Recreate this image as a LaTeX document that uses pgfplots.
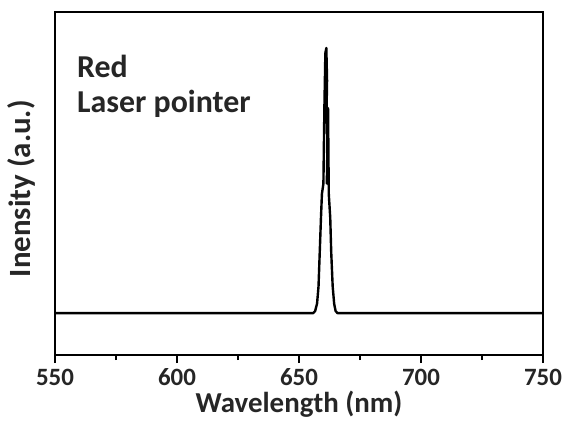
\documentclass[border=0pt]{standalone}
\usepackage{fontspec}
\setmainfont{Carlito}
\usepackage{pgfplots}
\pgfplotsset{compat=1.18}
\begin{document}
\begin{tikzpicture}[x=1bp,y=1bp]
\begin{axis}[
  name=ax,
  at={(0,0)}, anchor=south west,
  scale only axis,
  width=488bp, height=343bp,
  xmin=550, xmax=750, ymin=0, ymax=1,
  xtick={550,600,650,700,750},
  minor xtick={575,625,675,725},
  xtick pos=lower,
  ytick=\empty,
  tick align=outside,
  major tick length=8bp,
  minor tick length=5bp,
  every tick/.style={line width=1.6bp, black},
  axis line style={line width=2.2bp},
  /pgf/number format/assume math mode=true,
  /pgf/number format/1000 sep={},
  ticklabel style={font=\fontsize{25}{26}\selectfont\bfseries, text=black!85},
  xticklabel style={anchor=base, yshift=-22bp, inner sep=0pt},
  xlabel={Wavelength (nm)},
  xlabel style={font=\fontsize{29}{32}\selectfont\bfseries, text=black!85, at={(rel axis cs:0.5,-0.168)}, anchor=base, inner sep=0pt},
  ylabel={Inensity (a.u.)},
  ylabel style={font=\fontsize{31}{33}\selectfont\bfseries, text=black!85, at={(rel axis cs:-0.068,0.485)}, anchor=center},
  clip=false,
]
\addplot[black, line width=2.4bp, line join=round] coordinates {
(550,0.122) (655.8,0.122) (656.6,0.128) (657.4,0.15) (658.0,0.20)
(658.5,0.30) (659.0,0.40) (659.4,0.47) (660.0,0.50) (660.4,0.72)
(660.8,0.88) (661.2,0.895) (661.5,0.80) (661.3,0.72) (661.7,0.60)
(661.4,0.50) (661.9,0.72) (662.2,0.47) (662.8,0.40) (663.2,0.30)
(663.8,0.20) (664.4,0.15) (665.0,0.128) (665.8,0.122) (750,0.122)
};
\node[anchor=base west, inner sep=0pt, font=\fontsize{32}{34}\selectfont\bfseries, text=black!85] at (rel axis cs:0.045,0.808) {Red};
\node[anchor=base west, inner sep=0pt, font=\fontsize{32}{34}\selectfont\bfseries, text=black!85] at (rel axis cs:0.045,0.708) {Laser pointer};
\end{axis}
\path (-55,-66) rectangle (509,355);
\end{tikzpicture}
\end{document}
